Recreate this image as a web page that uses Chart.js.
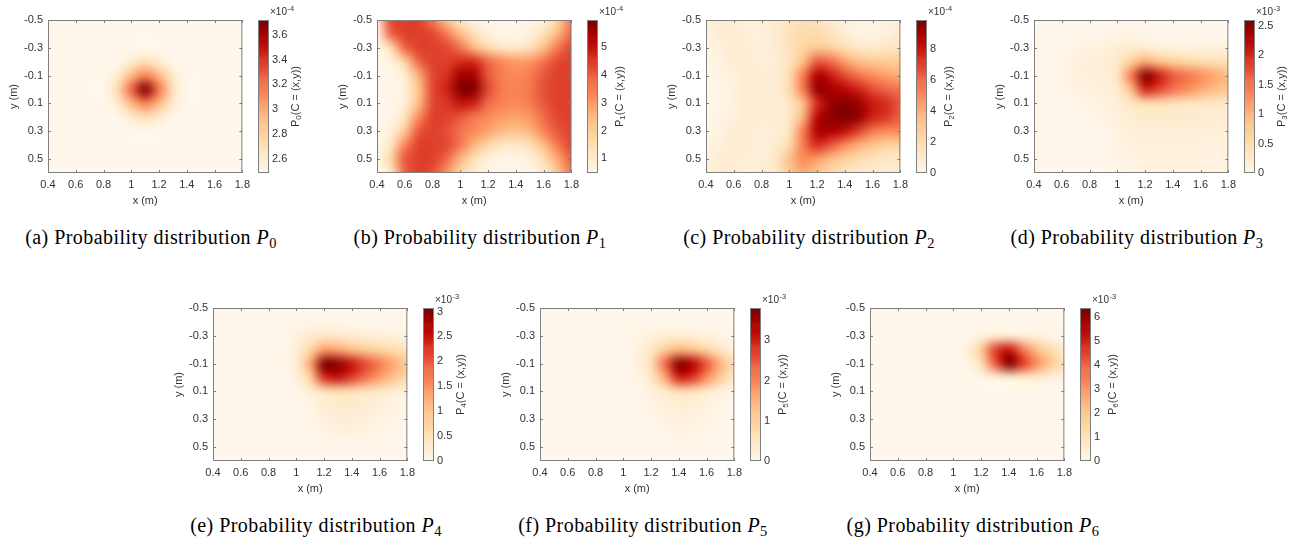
<!DOCTYPE html>
<html>
<head>
<meta charset="utf-8">
<script src="https://cdn.jsdelivr.net/npm/chart.js@4.4.1/dist/chart.umd.min.js"></script>
<style>
  body { margin: 0; background: #fff; }
  #stage { position: relative; width: 1307px; height: 544px; overflow: hidden; }
  #stage canvas { position: absolute; }
  .cap { position: absolute; font: 20px "Liberation Serif", "Times New Roman", serif; line-height: 20px;
         letter-spacing: 0.45px; color: #000; white-space: nowrap; transform: translateX(-50%); }
  .cap sub { font-size: 72%; vertical-align: -0.3em; line-height: 0; }
</style>
</head>
<body>
<div id="stage"></div>
<script>
// grid cell centres (m) and axis ticks
const X_CENTERS = [0.4, 0.5, 0.6, 0.7, 0.8, 0.9, 1.0, 1.1, 1.2, 1.3, 1.4, 1.5, 1.6, 1.7, 1.8];
const Y_CENTERS = [-0.5, -0.4, -0.3, -0.2, -0.1, 0.0, 0.1, 0.2, 0.3, 0.4, 0.5, 0.6];
const X_TICKS = [0.4, 0.6, 0.8, 1, 1.2, 1.4, 1.6, 1.8];
const Y_TICKS = [-0.5, -0.3, -0.1, 0.1, 0.3, 0.5];

// P0, units of 1e-4 (rows follow Y_CENTERS, columns X_CENTERS)
const P0_GRID = [
  [2.49, 2.49, 2.49, 2.49, 2.49, 2.49, 2.49, 2.49, 2.49, 2.49, 2.49, 2.49, 2.49, 2.49, 2.49],
  [2.49, 2.49, 2.49, 2.49, 2.49, 2.49, 2.49, 2.49, 2.49, 2.49, 2.49, 2.49, 2.49, 2.49, 2.49],
  [2.49, 2.49, 2.49, 2.49, 2.49, 2.49, 2.49, 2.49, 2.49, 2.49, 2.49, 2.49, 2.49, 2.49, 2.49],
  [2.49, 2.49, 2.49, 2.49, 2.49, 2.49, 2.60, 2.70, 2.60, 2.49, 2.49, 2.49, 2.49, 2.49, 2.49],
  [2.49, 2.49, 2.49, 2.49, 2.49, 2.60, 2.95, 3.15, 2.95, 2.62, 2.49, 2.49, 2.49, 2.49, 2.49],
  [2.49, 2.49, 2.49, 2.49, 2.49, 2.72, 3.25, 3.72, 3.20, 2.68, 2.49, 2.49, 2.49, 2.49, 2.49],
  [2.49, 2.49, 2.49, 2.49, 2.49, 2.60, 2.95, 3.15, 2.95, 2.62, 2.49, 2.49, 2.49, 2.49, 2.49],
  [2.49, 2.49, 2.49, 2.49, 2.49, 2.49, 2.60, 2.70, 2.60, 2.49, 2.49, 2.49, 2.49, 2.49, 2.49],
  [2.49, 2.49, 2.49, 2.49, 2.49, 2.49, 2.49, 2.49, 2.49, 2.49, 2.49, 2.49, 2.49, 2.49, 2.49],
  [2.49, 2.49, 2.49, 2.49, 2.49, 2.49, 2.49, 2.49, 2.49, 2.49, 2.49, 2.49, 2.49, 2.49, 2.49],
  [2.49, 2.49, 2.49, 2.49, 2.49, 2.49, 2.49, 2.49, 2.49, 2.49, 2.49, 2.49, 2.49, 2.49, 2.49],
  [2.49, 2.49, 2.49, 2.49, 2.49, 2.49, 2.49, 2.49, 2.49, 2.49, 2.49, 2.49, 2.49, 2.49, 2.49],
];
const P0_LIMITS = [2.485, 3.72];
const P0_TICKS = [2.6, 2.8, 3, 3.2, 3.4, 3.6];

// P1, units of 1e-4
const P1_GRID = [
  [0.8, 4.3, 4.4, 4.4, 3.6, 2.3, 1.2, 0.7, 0.6, 0.5, 0.5, 0.6, 0.8, 1.8, 3.6],
  [0.6, 3.9, 4.4, 4.4, 4.3, 3.6, 2.5, 1.4, 0.8, 0.6, 0.6, 0.8, 1.4, 2.6, 3.9],
  [0.5, 1.5, 3.9, 4.4, 4.4, 4.3, 3.7, 2.6, 1.7, 1.2, 1.1, 1.4, 2.4, 3.6, 4.3],
  [0.5, 0.7, 1.8, 3.9, 4.4, 4.4, 4.7, 4.7, 3.9, 3.3, 3.0, 3.1, 3.7, 4.3, 4.4],
  [0.5, 0.5, 0.9, 2.7, 4.3, 4.6, 5.5, 5.4, 4.1, 3.5, 3.3, 3.5, 4.1, 4.4, 4.4],
  [0.5, 0.5, 0.8, 2.3, 4.3, 4.8, 5.95, 5.9, 4.3, 3.5, 3.4, 3.6, 4.2, 4.4, 4.4],
  [0.5, 0.5, 0.9, 2.5, 4.3, 4.5, 5.0, 4.8, 3.8, 3.4, 3.3, 3.5, 4.1, 4.4, 4.4],
  [0.5, 0.6, 1.3, 3.3, 4.4, 4.4, 4.1, 3.6, 3.3, 3.0, 2.9, 3.1, 3.8, 4.3, 4.4],
  [0.5, 0.8, 2.2, 4.1, 4.4, 4.2, 3.7, 3.3, 2.9, 2.5, 2.3, 2.6, 3.4, 4.1, 4.4],
  [0.5, 1.2, 3.4, 4.4, 4.4, 4.3, 3.6, 2.6, 1.7, 1.2, 1.1, 1.4, 2.4, 3.6, 4.3],
  [0.5, 1.8, 4.1, 4.4, 4.4, 3.9, 2.6, 1.4, 0.8, 0.6, 0.6, 0.8, 1.5, 2.8, 4.0],
  [0.5, 1.0, 3.9, 4.4, 4.2, 3.1, 1.8, 1.0, 0.6, 0.5, 0.5, 0.6, 1.0, 2.2, 3.7],
];
const P1_LIMITS = [0.47, 5.99];
const P1_TICKS = [1, 2, 3, 4, 5];

// P2, units of 1e-4
const P2_GRID = [
  [0.6, 0.9, 0.8, 0.6, 0.6, 0.9, 1.5, 1.8, 1.6, 1.0, 0.5, 0.3, 0.3, 0.4, 0.6],
  [0.4, 0.9, 0.9, 0.6, 0.6, 0.9, 1.6, 2.0, 2.0, 1.5, 0.8, 0.4, 0.4, 0.6, 1.0],
  [0.3, 0.6, 1.0, 0.8, 0.6, 0.9, 1.6, 2.4, 3.0, 2.6, 1.8, 1.2, 1.1, 1.3, 1.6],
  [0.2, 0.4, 0.9, 0.9, 0.7, 0.8, 1.5, 3.5, 6.5, 6.0, 4.5, 3.5, 3.0, 2.8, 2.8],
  [0.2, 0.3, 0.6, 1.0, 0.8, 0.8, 1.8, 5.5, 8.8, 8.0, 6.8, 5.8, 5.0, 4.5, 4.0],
  [0.2, 0.2, 0.5, 0.9, 0.9, 0.8, 2.0, 5.5, 9.4, 9.0, 8.5, 7.8, 6.8, 6.2, 5.8],
  [0.2, 0.2, 0.5, 0.9, 0.9, 0.8, 1.3, 3.5, 7.5, 9.3, 9.7, 9.2, 8.0, 7.5, 6.5],
  [0.2, 0.3, 0.6, 1.0, 0.8, 0.8, 1.2, 4.0, 8.5, 9.5, 9.9, 9.3, 7.8, 7.2, 6.3],
  [0.2, 0.4, 0.9, 0.9, 0.7, 0.8, 1.5, 5.5, 8.8, 8.8, 8.2, 7.0, 5.5, 5.0, 5.0],
  [0.3, 0.6, 1.0, 0.8, 0.7, 0.9, 2.0, 5.5, 7.5, 6.5, 5.0, 4.0, 3.2, 2.6, 2.3],
  [0.4, 0.9, 0.9, 0.7, 0.7, 1.2, 3.5, 5.0, 4.5, 3.5, 2.6, 2.0, 1.6, 1.3, 1.2],
  [0.5, 0.9, 0.8, 0.7, 0.8, 1.2, 3.0, 4.2, 3.2, 2.2, 1.6, 1.2, 1.0, 0.9, 0.8],
];
const P2_LIMITS = [0, 9.9];
const P2_TICKS = [0, 2, 4, 6, 8];

// P3, units of 1e-3
const P3_GRID = [
  [0, 0, 0, 0, 0, 0, 0, 0, 0, 0, 0, 0, 0, 0, 0],
  [0, 0, 0, 0, 0, 0.03, 0.07, 0.08, 0.05, 0.02, 0, 0, 0, 0, 0],
  [0, 0, 0, 0.06, 0.1, 0.14, 0.2, 0.26, 0.22, 0.15, 0.12, 0.1, 0.11, 0.12, 0.14],
  [0, 0, 0.04, 0.14, 0.17, 0.2, 0.3, 0.7, 1.1, 0.9, 0.7, 0.6, 0.52, 0.48, 0.45],
  [0, 0, 0.04, 0.14, 0.18, 0.2, 0.35, 1.45, 2.55, 2.1, 1.7, 1.5, 1.3, 1.1, 0.95],
  [0, 0, 0.03, 0.1, 0.14, 0.16, 0.25, 0.95, 2.0, 1.8, 1.5, 1.3, 1.1, 0.95, 0.8],
  [0, 0, 0, 0.02, 0.07, 0.12, 0.17, 0.35, 0.5, 0.48, 0.42, 0.38, 0.35, 0.32, 0.3],
  [0, 0, 0, 0, 0.02, 0.06, 0.15, 0.22, 0.26, 0.26, 0.26, 0.26, 0.25, 0.23, 0.2],
  [0, 0, 0, 0, 0, 0.02, 0.11, 0.18, 0.2, 0.2, 0.2, 0.19, 0.18, 0.17, 0.16],
  [0, 0, 0, 0, 0, 0, 0.08, 0.14, 0.16, 0.16, 0.16, 0.16, 0.15, 0.14, 0.13],
  [0, 0, 0, 0, 0, 0, 0.06, 0.11, 0.13, 0.13, 0.13, 0.13, 0.12, 0.11, 0.1],
  [0, 0, 0, 0, 0, 0, 0.04, 0.08, 0.1, 0.1, 0.1, 0.1, 0.09, 0.08, 0.08],
];
const P3_LIMITS = [0, 2.6];
const P3_TICKS = [0, 0.5, 1, 1.5, 2, 2.5];

// P4, units of 1e-3
const P4_GRID = [
  [0, 0, 0, 0, 0, 0, 0, 0, 0, 0, 0, 0, 0, 0, 0],
  [0, 0, 0, 0, 0, 0, 0.03, 0.06, 0.05, 0.03, 0.02, 0, 0, 0, 0],
  [0, 0, 0, 0, 0, 0, 0.15, 0.3, 0.4, 0.36, 0.3, 0.25, 0.2, 0.16, 0.12],
  [0, 0, 0, 0, 0, 0.03, 0.2, 0.7, 1.4, 1.35, 1.1, 0.9, 0.75, 0.6, 0.5],
  [0, 0, 0, 0, 0, 0.04, 0.25, 1.3, 3.05, 2.95, 2.5, 2.1, 1.7, 1.3, 0.9],
  [0, 0, 0, 0, 0, 0.02, 0.15, 0.8, 2.3, 2.5, 2.2, 1.8, 1.4, 1.0, 0.7],
  [0, 0, 0, 0, 0, 0, 0.05, 0.2, 0.5, 0.6, 0.55, 0.45, 0.35, 0.25, 0.15],
  [0, 0, 0, 0, 0, 0, 0, 0.1, 0.25, 0.3, 0.3, 0.28, 0.22, 0.12, 0.06],
  [0, 0, 0, 0, 0, 0, 0, 0.03, 0.15, 0.25, 0.25, 0.2, 0.12, 0.05, 0.02],
  [0, 0, 0, 0, 0, 0, 0, 0, 0.05, 0.12, 0.15, 0.1, 0.04, 0, 0],
  [0, 0, 0, 0, 0, 0, 0, 0, 0, 0, 0, 0, 0, 0, 0],
  [0, 0, 0, 0, 0, 0, 0, 0, 0, 0, 0, 0, 0, 0, 0],
];
const P4_LIMITS = [0, 3.07];
const P4_TICKS = [0, 0.5, 1, 1.5, 2, 2.5, 3];

// P5, units of 1e-3
const P5_GRID = [
  [0, 0, 0, 0, 0, 0, 0, 0, 0, 0, 0, 0, 0, 0, 0],
  [0, 0, 0, 0, 0, 0, 0, 0.03, 0.05, 0.03, 0.01, 0, 0, 0, 0],
  [0, 0, 0, 0, 0, 0, 0, 0.1, 0.2, 0.3, 0.32, 0.26, 0.18, 0.12, 0.08],
  [0, 0, 0, 0, 0, 0, 0, 0.15, 0.45, 1.1, 1.5, 1.3, 0.9, 0.5, 0.22],
  [0, 0, 0, 0, 0, 0, 0, 0.18, 0.7, 2.3, 3.75, 3.3, 2.5, 1.5, 0.7],
  [0, 0, 0, 0, 0, 0, 0, 0.12, 0.45, 1.6, 3.0, 2.8, 1.9, 1.1, 0.45],
  [0, 0, 0, 0, 0, 0, 0, 0.04, 0.18, 0.45, 0.7, 0.65, 0.42, 0.2, 0.08],
  [0, 0, 0, 0, 0, 0, 0, 0, 0.1, 0.22, 0.3, 0.28, 0.18, 0.07, 0],
  [0, 0, 0, 0, 0, 0, 0, 0, 0.04, 0.15, 0.22, 0.18, 0.1, 0.03, 0],
  [0, 0, 0, 0, 0, 0, 0, 0, 0, 0.07, 0.12, 0.09, 0.04, 0, 0],
  [0, 0, 0, 0, 0, 0, 0, 0, 0, 0, 0, 0, 0, 0, 0],
  [0, 0, 0, 0, 0, 0, 0, 0, 0, 0, 0, 0, 0, 0, 0],
];
const P5_LIMITS = [0, 3.8];
const P5_TICKS = [0, 1, 2, 3];

// P6, units of 1e-3
const P6_GRID = [
  [0, 0, 0, 0, 0, 0, 0, 0, 0, 0, 0, 0, 0, 0, 0],
  [0, 0, 0, 0, 0, 0, 0, 0, 0, 0, 0, 0, 0, 0, 0],
  [0, 0, 0, 0, 0, 0, 0, 0.05, 0.25, 0.55, 0.55, 0.42, 0.3, 0.18, 0.08],
  [0, 0, 0, 0, 0, 0, 0, 0.35, 1.8, 4.5, 5.3, 3.7, 2.3, 1.3, 0.6],
  [0, 0, 0, 0, 0, 0, 0, 0.15, 1.1, 4.1, 6.35, 4.7, 3.2, 2.0, 1.0],
  [0, 0, 0, 0, 0, 0, 0, 0, 0.1, 0.35, 0.6, 0.7, 0.6, 0.4, 0.2],
  [0, 0, 0, 0, 0, 0, 0, 0, 0, 0, 0, 0, 0, 0, 0],
  [0, 0, 0, 0, 0, 0, 0, 0, 0, 0, 0, 0, 0, 0, 0],
  [0, 0, 0, 0, 0, 0, 0, 0, 0, 0, 0, 0, 0, 0, 0],
  [0, 0, 0, 0, 0, 0, 0, 0, 0, 0, 0, 0, 0, 0, 0],
  [0, 0, 0, 0, 0, 0, 0, 0, 0, 0, 0, 0, 0, 0, 0],
  [0, 0, 0, 0, 0, 0, 0, 0, 0, 0, 0, 0, 0, 0, 0],
];
const P6_LIMITS = [0, 6.39];
const P6_TICKS = [0, 1, 2, 3, 4, 5, 6];

const CAPTION_LETTERS = ["a", "b", "c", "d", "e", "f", "g"];
const EXPONENTS = ["-4", "-4", "-4", "-3", "-3", "-3", "-3"];

// OrRd colormap
const ORRD = [
  [255, 247, 236], [254, 232, 200], [253, 212, 158], [253, 187, 132], [252, 141, 89],
  [239, 101, 72], [215, 48, 31], [179, 0, 0], [127, 0, 0],
];

const BOX_W = 195;
const BOX_H = 153;
const PAD_TOP = 20;
const AXIS_W = 48;
const XAXIS_H = 36;
const CB_GAP = 210;
const CB_W = 11;
const CB_AXIS_W = 44;
const TEXT = "#333";
const FRAME = "#7f7f7f";
const FONT = { family: "Liberation Sans", size: 11 };

const panels = [
  { box: [48, 20], grid: P0_GRID, limits: P0_LIMITS, ticks: P0_TICKS },
  { box: [377, 20], grid: P1_GRID, limits: P1_LIMITS, ticks: P1_TICKS },
  { box: [706, 20], grid: P2_GRID, limits: P2_LIMITS, ticks: P2_TICKS },
  { box: [1034, 20], grid: P3_GRID, limits: P3_LIMITS, ticks: P3_TICKS },
  { box: [213, 308], grid: P4_GRID, limits: P4_LIMITS, ticks: P4_TICKS },
  { box: [540, 308], grid: P5_GRID, limits: P5_LIMITS, ticks: P5_TICKS },
  { box: [870, 308], grid: P6_GRID, limits: P6_LIMITS, ticks: P6_TICKS },
];

const stage = document.getElementById("stage");

const colorAt = (t) => {
    t = Math.min(1, Math.max(0, t));
    const p = t * (ORRD.length - 1);
    const i = Math.min(Math.floor(p), ORRD.length - 2);
    const f = p - i;
    return ORRD[i].map((c, k) => Math.round(c + (ORRD[i + 1][k] - c) * f));
};

const addCanvas = (left, top, width, height) => {
    const cv = document.createElement("canvas");
    cv.width = width;
    cv.height = height;
    cv.style.left = left + "px";
    cv.style.top = top + "px";
    cv.style.width = width + "px";
    cv.style.height = height + "px";
    stage.appendChild(cv);
    return cv;
};

const fmt = (v) => String(+Number(v).toFixed(2));

// paints the grid as an image placed with the chart scales
const heatLayer = (grid, limits) => ({
    id: "heatLayer",
    beforeDatasetsDraw(chart) {
        const { ctx, chartArea: a, scales } = chart;
        const img = document.createElement("canvas");
        img.width = X_CENTERS.length;
        img.height = Y_CENTERS.length;
        const ictx = img.getContext("2d");
        const pix = ictx.createImageData(img.width, img.height);
        grid.forEach((row, j) => row.forEach((v, i) => {
            const c = colorAt((v - limits[0]) / (limits[1] - limits[0]));
            const k = (j * img.width + i) * 4;
            pix.data[k] = c[0];
            pix.data[k + 1] = c[1];
            pix.data[k + 2] = c[2];
            pix.data[k + 3] = 255;
        }));
        ictx.putImageData(pix, 0, 0);
        const hx = (X_CENTERS[1] - X_CENTERS[0]) / 2;
        const hy = (Y_CENTERS[1] - Y_CENTERS[0]) / 2;
        const x0 = scales.x.getPixelForValue(X_CENTERS[0] - hx);
        const x1 = scales.x.getPixelForValue(X_CENTERS[X_CENTERS.length - 1] + hx);
        const y0 = scales.y.getPixelForValue(Y_CENTERS[0] - hy);
        const y1 = scales.y.getPixelForValue(Y_CENTERS[Y_CENTERS.length - 1] + hy);
        ctx.save();
        ctx.beginPath();
        ctx.rect(a.left, a.top, a.width, a.height);
        ctx.clip();
        ctx.imageSmoothingEnabled = true;
        ctx.imageSmoothingQuality = "high";
        ctx.drawImage(img, x0, y0, x1 - x0, y1 - y0);
        ctx.restore();
    },
    afterDraw(chart) {
        const { ctx, chartArea: a, scales } = chart;
        ctx.save();
        ctx.strokeStyle = FRAME;
        ctx.lineWidth = 1;
        ctx.strokeRect(a.left + 0.5, a.top + 0.5, a.width - 1, a.height - 1);
        ctx.beginPath();
        X_TICKS.forEach((v) => {
            const px = Math.round(scales.x.getPixelForValue(v)) + 0.5;
            ctx.moveTo(px, a.bottom);
            ctx.lineTo(px, a.bottom - 3);
            ctx.moveTo(px, a.top);
            ctx.lineTo(px, a.top + 3);
        });
        Y_TICKS.forEach((v) => {
            const py = Math.round(scales.y.getPixelForValue(v)) + 0.5;
            ctx.moveTo(a.left, py);
            ctx.lineTo(a.left + 3, py);
            ctx.moveTo(a.right, py);
            ctx.lineTo(a.right - 3, py);
        });
        ctx.stroke();
        ctx.restore();
    },
});

// colour strip, exponent and rotated label of a colorbar
const barLayer = (limits, ticks, exponent, index) => ({
    id: "barLayer",
    beforeDatasetsDraw(chart) {
        const { ctx, chartArea: a, scales } = chart;
        const n = 160;
        for (let k = 0; k < n; k++) {
            const v0 = limits[0] + (limits[1] - limits[0]) * k / n;
            const v1 = limits[0] + (limits[1] - limits[0]) * (k + 1) / n;
            const p0 = scales.y.getPixelForValue(v0);
            const p1 = scales.y.getPixelForValue(v1);
            const c = colorAt((k + 0.5) / n);
            ctx.fillStyle = `rgb(${c[0]},${c[1]},${c[2]})`;
            ctx.fillRect(a.left, p1, a.width, p0 - p1 + 0.6);
        }
    },
    afterDraw(chart) {
        const { ctx, chartArea: a } = chart;
        ctx.save();
        ctx.strokeStyle = FRAME;
        ctx.lineWidth = 1;
        ctx.strokeRect(a.left + 0.5, a.top + 0.5, a.width - 1, a.height - 1);

        ctx.fillStyle = TEXT;
        ctx.textBaseline = "alphabetic";
        ctx.textAlign = "left";
        ctx.font = "10px 'Liberation Sans'";
        const ex = a.right + 1;
        const ey = a.top - 5;
        ctx.fillText("×10", ex, ey);
        const w = ctx.measureText("×10").width;
        ctx.font = "7.5px 'Liberation Sans'";
        ctx.fillText(exponent, ex + w + 0.5, ey - 4);

        ctx.font = "11px 'Liberation Sans'";
        const labelW = Math.max(...ticks.map((t) => ctx.measureText(fmt(t)).width));
        const tx = a.right + Math.max(22, 3 + labelW + 9);
        const ty = (a.top + a.bottom) / 2;
        const head = "P", tail = "(C = (x,y))", sub = String(index);
        const wHead = ctx.measureText(head).width;
        const wTail = ctx.measureText(tail).width;
        ctx.font = "8px 'Liberation Sans'";
        const wSub = ctx.measureText(sub).width;
        const total = wHead + wSub + wTail;
        ctx.translate(tx, ty);
        ctx.rotate(-Math.PI / 2);
        ctx.textBaseline = "middle";
        let cx = -total / 2;
        ctx.font = "11px 'Liberation Sans'";
        ctx.fillText(head, cx, 0);
        cx += wHead;
        ctx.font = "8px 'Liberation Sans'";
        ctx.fillText(sub, cx, 3);
        cx += wSub;
        ctx.font = "11px 'Liberation Sans'";
        ctx.fillText(tail, cx, 0);
        ctx.restore();
    },
});

const buildPanel = (p, index) => {
    const [bx, by] = p.box;
    const mapCanvas = addCanvas(bx - AXIS_W, by - PAD_TOP, AXIS_W + BOX_W + 12, PAD_TOP + BOX_H + XAXIS_H);
    const points = [];
    Y_CENTERS.forEach((y, j) => X_CENTERS.forEach((x, i) => points.push({ x: x, y: y, v: p.grid[j][i] })));

    new Chart(mapCanvas, {
        type: "scatter",
        data: { datasets: [{ data: points, pointRadius: 0, pointHoverRadius: 0 }] },
        options: {
            responsive: false,
            animation: false,
            events: [],
            devicePixelRatio: 1,
            layout: { padding: { top: PAD_TOP, right: 12, left: 0, bottom: 0 } },
            plugins: { legend: { display: false }, tooltip: { enabled: false } },
            scales: {
                x: {
                    type: "linear",
                    min: 0.4,
                    max: 1.8,
                    afterBuildTicks: (s) => { s.ticks = X_TICKS.map((v) => ({ value: v })); },
                    afterFit: (s) => { s.height = XAXIS_H; },
                    grid: { display: false, drawTicks: false },
                    border: { display: false },
                    ticks: { font: FONT, color: TEXT, padding: 5, maxRotation: 0, autoSkip: false, callback: fmt },
                    title: { display: true, text: "x (m)", font: FONT, color: TEXT, padding: { top: 0, bottom: 1 } },
                },
                y: {
                    type: "linear",
                    reverse: true,
                    min: -0.5,
                    max: 0.6,
                    afterBuildTicks: (s) => { s.ticks = Y_TICKS.map((v) => ({ value: v })); },
                    afterFit: (s) => { s.width = AXIS_W; },
                    grid: { display: false, drawTicks: false },
                    border: { display: false },
                    ticks: { font: FONT, color: TEXT, padding: 5, autoSkip: false, callback: fmt },
                    title: { display: true, text: "y (m)", font: FONT, color: TEXT, padding: { top: 7, bottom: 0 } },
                },
            },
        },
        plugins: [heatLayer(p.grid, p.limits)],
    });

    const cbLeft = bx + CB_GAP;
    const barCanvas = addCanvas(cbLeft - 1, by - PAD_TOP, 1 + CB_W + CB_AXIS_W, PAD_TOP + BOX_H + 12);
    new Chart(barCanvas, {
        type: "scatter",
        data: { datasets: [{ data: p.ticks.map((t) => ({ x: 0.5, y: t })), pointRadius: 0, pointHoverRadius: 0 }] },
        options: {
            responsive: false,
            animation: false,
            events: [],
            devicePixelRatio: 1,
            layout: { padding: { top: PAD_TOP, right: 0, left: 1, bottom: 12 } },
            plugins: { legend: { display: false }, tooltip: { enabled: false } },
            scales: {
                x: { type: "linear", display: false, min: 0, max: 1 },
                y: {
                    type: "linear",
                    position: "right",
                    min: p.limits[0],
                    max: p.limits[1],
                    afterBuildTicks: (s) => { s.ticks = p.ticks.map((v) => ({ value: v })); },
                    afterFit: (s) => { s.width = CB_AXIS_W; },
                    grid: { display: false, drawTicks: false },
                    border: { display: false },
                    ticks: { font: FONT, color: TEXT, padding: 3, autoSkip: false, callback: fmt },
                },
            },
        },
        plugins: [barLayer(p.limits, p.ticks, EXPONENTS[index], index)],
    });

    const cap = document.createElement("div");
    cap.className = "cap";
    cap.style.left = (bx + 103) + "px";
    cap.style.top = (by + 207) + "px";
    cap.innerHTML = `(${CAPTION_LETTERS[index]}) Probability distribution <i>P</i><sub>${index}</sub>`;
    stage.appendChild(cap);
};

panels.forEach(buildPanel);
</script>
</body>
</html>
